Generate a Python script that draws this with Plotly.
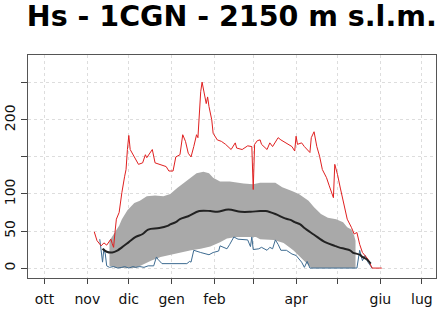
import pandas as pd
import plotly.graph_objects as go

# Season start (day 0 = 1 October)
season_start = "2022-10-01"

# Max (red) — days since 1 Oct, snow height cm
red_days = [36,38,41,43,45,48,49,50,51,52,54,55,56,58,59,60,61,62,65,68,71,73,74,76,78,80,84,88,90,93,
            95,98,100,102,104,106,108,110,111,112,113,114,116,117,118,119,121,122,125,128,131,133,135,138,139,143,
            145,147,150,151,152,154,156,157,161,163,165,169,171,175,179,181,182,183,186,188,191,192,193,195,197,
            199,201,204,206,209,210,212,214,217,219,222,224,226,228,230,233,234,236,237,244]
red_vals = [49,37,30,34,31,39,33,28,48,66,75,93,102,124,133,160,179,160,150,140,142,153,149,155,160,142,140,137,131,131,
            150,153,180,171,155,150,164,180,176,213,238,251,234,222,231,218,200,182,173,171,167,164,160,169,162,160,
            163,165,164,106,167,172,173,167,160,169,164,176,173,169,164,158,178,167,169,164,158,156,176,184,164,
            151,133,122,111,95,140,126,108,80,66,55,46,48,32,21,15,12,4,0,0]

# Min (blue)
blue_days = [40,42,43,44,45,47,50,53,56,58,61,64,66,69,72,75,79,81,82,85,103,105,106,108,113,119,122,126,127,129,
             132,134,137,140,144,147,149,150,151,155,157,161,163,165,167,169,171,175,179,182,186,188,190,192,226,
             228,230,232,234,236,237]
blue_vals = [39,8,26,19,3,1,2,0,1,2,0,2,1,2,1,3,3,15,12,6,6,9,8,24,21,18,21,23,30,28,
             26,32,42,39,39,38,29,42,25,26,28,24,28,26,38,32,24,24,19,17,8,1,9,0,0,
             24,10,17,8,3,0]

# Median (black)
med_days = [42,45,49,53,56,61,66,71,75,83,89,91,95,98,104,112,120,125,133,142,149,156,160,167,174,178,181,185,
            188,195,203,210,213,217,221,223,228,230,233,236]
med_vals = [26,22,21,24,28,35,42,46,52,54,57,59,62,66,70,77,77,76,79,76,76,77,77,73,67,65,62,59,
            54,45,35,30,28,26,24,21,18,15,12,6]

# Percentile band (grey)
upper_days = [47,51,54,56,60,65,69,74,80,86,91,96,101,106,110,115,119,122,127,134,144,151,156,167,172,179,184,
              191,195,200,205,211,216,219,222,224,225]
upper_vals = [37,48,57,66,78,88,91,97,98,97,100,108,115,122,128,130,128,122,117,117,114,113,115,115,109,104,100,
              91,82,73,68,66,62,55,52,44,37]
lower_days = [47,52,66,70,77,84,91,98,106,113,120,127,132,139,146,153,156,166,173,180,185,190,193,225]
lower_vals = [3,0,0,4,10,15,18,21,24,26,29,35,40,42,42,42,39,38,34,24,15,6,0,0]

# Axis ticks
month_ticks = ["2022-10-01","2022-11-01","2022-12-01","2023-01-01","2023-02-01","2023-03-01",
               "2023-04-01","2023-05-01","2023-06-01","2023-07-01"]
month_labels = ["ott","nov","dic","gen","feb","","apr","","giu","lug"]
y_ticks = [0,50,100,150,200,250]
y_labels = ["0","50","100","","200",""]

base = pd.Timestamp(season_start)
def to_dates(days):
    return base + pd.to_timedelta(days, unit="D")

fig = go.Figure()
fig.add_trace(go.Scatter(x=to_dates(lower_days), y=lower_vals, mode="lines",
                         line=dict(width=0, color="#A9A9A9"), showlegend=False, hoverinfo="skip"))
fig.add_trace(go.Scatter(x=to_dates(upper_days), y=upper_vals, mode="lines", fill="tonexty",
                         fillcolor="#A9A9A9", line=dict(width=0, color="#A9A9A9"), showlegend=False))
fig.add_trace(go.Scatter(x=to_dates(blue_days), y=blue_vals, mode="lines",
                         line=dict(width=1, color="#3D6B91"), showlegend=False))
fig.add_trace(go.Scatter(x=to_dates(red_days), y=red_vals, mode="lines",
                         line=dict(width=1, color="#E02020"), showlegend=False))
fig.add_trace(go.Scatter(x=to_dates(med_days), y=med_vals, mode="lines",
                         line=dict(width=2, color="#222222", shape="spline"), showlegend=False))

font_family = "DejaVu Sans"
fig.update_layout(
    width=439, height=309,
    margin=dict(l=27, r=2, t=55, b=30),
    paper_bgcolor="white", plot_bgcolor="white",
    font=dict(family=font_family, size=14, color="#111111"),
    title=dict(text="<b>Hs - 1CGN - 2150 m s.l.m.</b>", x=0.528, xanchor="center",
               y=0.948, yanchor="middle", yref="container",
               font=dict(family=font_family, size=28.5, color="black")),
    showlegend=False,
)
fig.update_xaxes(
    type="date", range=["2022-09-19 02:00", "2023-07-11 05:00"],
    tickmode="array", tickvals=month_ticks, ticktext=month_labels,
    ticks="outside", ticklen=5, tickcolor="#444444", ticklabelstandoff=3,
    showgrid=True, gridcolor="#DDDDDD", griddash="dot", gridwidth=1,
    showline=True, linecolor="#555555", linewidth=1, mirror=True,
    zeroline=False, tickfont=dict(size=14, family=font_family),
)
fig.update_yaxes(
    range=[-13.4, 287.6],
    tickmode="array", tickvals=y_ticks, ticktext=y_labels, tickangle=-90,
    ticks="outside", ticklen=6, tickcolor="#444444",
    showgrid=True, gridcolor="#DDDDDD", griddash="dot", gridwidth=1,
    showline=True, linecolor="#555555", linewidth=1, mirror=True,
    zeroline=False, tickfont=dict(size=14, family=font_family),
)

fig.write_html("out.html")
